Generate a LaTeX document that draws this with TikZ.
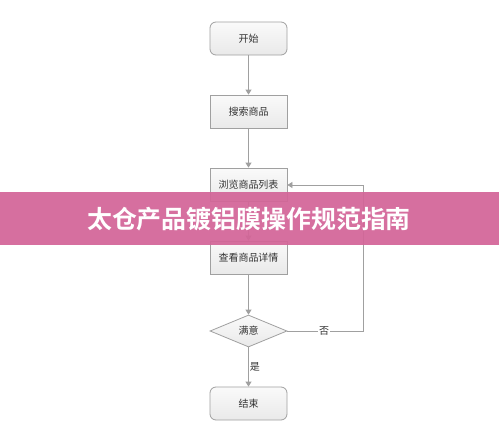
\documentclass[tikz,border=0pt]{standalone}
\usepackage{fontspec}
\usetikzlibrary{shapes.geometric,arrows.meta}
\newfontfamily\cjk{Noto Sans CJK SC}[BoldFont=Noto Sans CJK SC Bold]
\definecolor{banner}{RGB}{211,101,152}
\definecolor{edge}{RGB}{160,160,160}
\definecolor{txt}{RGB}{51,51,51}
\tikzset{
  base/.style={draw=edge, line width=0.8pt, top color=gray!4, bottom color=gray!17,
    minimum width=77pt, minimum height=33pt, inner sep=0pt, text=txt,
    font=\cjk\fontsize{10}{12}\selectfont},
  termbox/.style={base, rectangle, rounded corners=6pt},
  procbox/.style={base, rectangle},
  decbox/.style={base, diamond, aspect=2.4, minimum width=77pt, minimum height=32pt},
  conn/.style={draw=edge, line width=0.8pt, -{Triangle[length=5pt,width=6pt]}},
  lbl/.style={text=txt, font=\cjk\fontsize{10}{12}\selectfont, inner sep=1pt}
}
\begin{document}
\begin{tikzpicture}[x=1pt,y=-1pt]
\useasboundingbox (0,0) rectangle (499,439);
\fill[white] (0,0) rectangle (499,439);
\node[termbox] (start) at (248.5,38.5) {开始};
\node[procbox] (search) at (248.5,111.5) {搜索商品};
\node[procbox] (browse) at (248.5,184.5) {浏览商品列表};
\node[procbox] (view) at (248.5,257.5) {查看商品详情};
\node[decbox] (ok) at (248.5,331) {满意};
\node[termbox] (end) at (248.5,403.5) {结束};
\coordinate (c1) at (363,331);
\coordinate (c2) at (363,185);
\draw[conn] (start) -- (search);
\draw[conn] (search) -- (browse);
\draw[conn] (browse) -- (view);
\draw[conn] (view) -- (ok);
\draw[conn] (ok) -- node[lbl, anchor=west, pos=0.5] (yes) {是} (end);
\draw[conn] (ok.east) -- (c1) -- (c2) -- (browse.east |- c2);
\node[lbl, fill=white] (no) at (324,331) {否};
\fill[banner, opacity=0.93] (0,192) rectangle (499,245);
\node[text=white, font=\cjk\bfseries\fontsize{24.9}{28}\selectfont, inner sep=0pt] (title) at (249,219) {太仓产品镀铝膜操作规范指南};
\end{tikzpicture}
\end{document}
